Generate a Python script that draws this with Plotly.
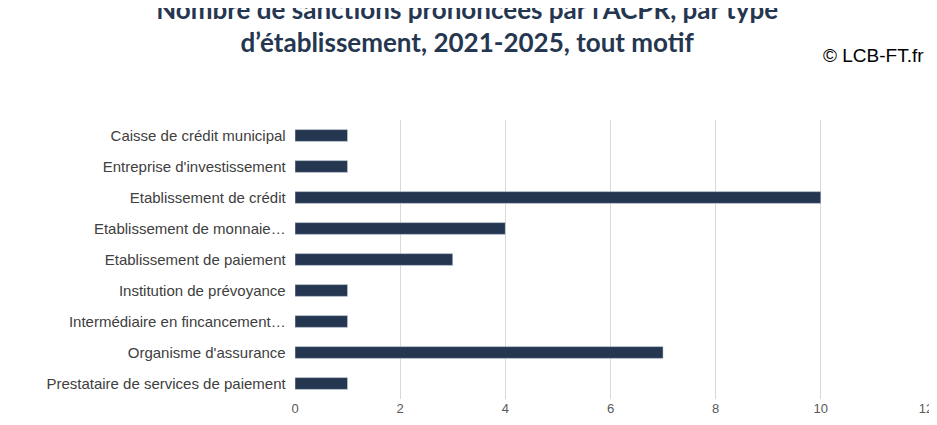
import plotly.graph_objects as go

categories = ["Caisse de crédit municipal", "Entreprise d'investissement", "Etablissement de crédit",
              "Etablissement de monnaie…", "Etablissement de paiement", "Institution de prévoyance",
              "Intermédiaire en fincancement…", "Organisme d'assurance", "Prestataire de services de paiement"]
values = [1, 1, 10, 4, 3, 1, 1, 7, 1]
navy = "#253650"

fig = go.Figure(go.Bar(y=categories, x=values, orientation="h", marker_color=navy, width=0.38))
fig.update_layout(
    width=937, height=425, plot_bgcolor="white", paper_bgcolor="white",
    margin=dict(l=287, r=13, t=112, b=34),
    font=dict(family="Liberation Sans, Arial", color="#404040", size=15),
    title=dict(text="<b>Nombre de sanctions prononcées par l’ACPR, par type<br>d’établissement, 2021-2025, tout motif</b>",
               x=0.49, xanchor="center", y=0.975, yanchor="top",
               font=dict(family="Lato, sans-serif", size=26, color=navy)),
    xaxis=dict(range=[0, 12], dtick=2, showgrid=True, gridcolor="#d9d9d9", zeroline=False,
               tickfont=dict(size=13, color="#595959"), fixedrange=True),
    yaxis=dict(autorange="reversed", ticksuffix="  ", tickfont=dict(size=15, color="#404040")),
    annotations=[dict(text="© LCB-FT.fr", x=925, y=66, xref="paper", yref="paper", showarrow=False)],
    showlegend=False,
)
fig.layout.annotations = [dict(text="© LCB-FT.fr", x=1.0, xanchor="right", y=1.23, yanchor="middle",
                               xref="paper", yref="paper", showarrow=False,
                               font=dict(size=19, color="#000000", family="Liberation Sans, Arial"))]
fig.write_html("out.html")
